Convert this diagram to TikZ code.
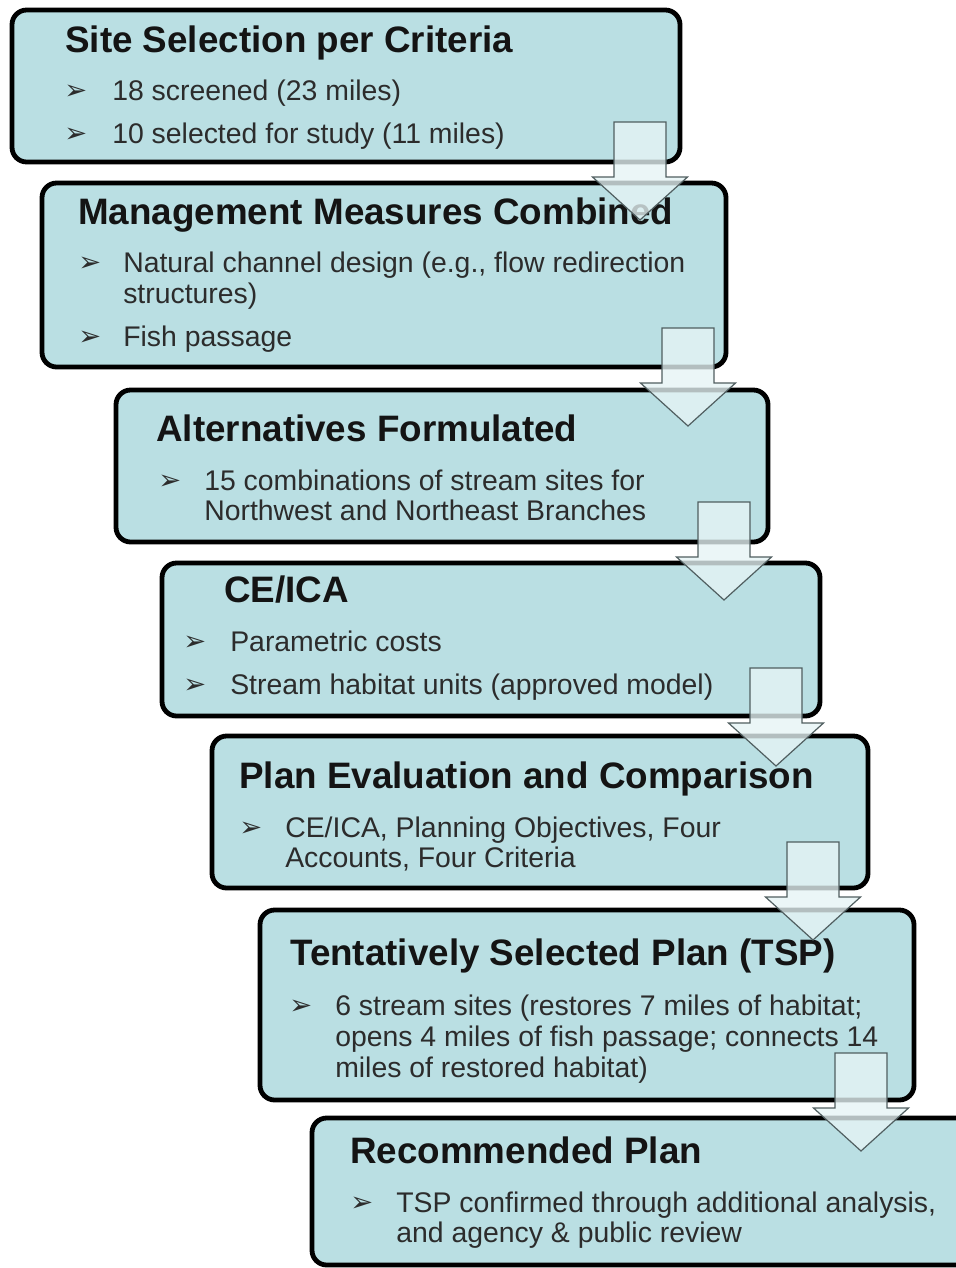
\documentclass[tikz,border=0pt]{standalone}
\usepackage{fontspec}
\setmainfont{Liberation Sans}
\newfontfamily\symfont{DejaVu Sans}
\definecolor{boxfill}{HTML}{BADFE3}
\definecolor{arrowfill}{HTML}{E6F4F5}
\definecolor{arrowline}{HTML}{505E60}
\definecolor{titlecol}{HTML}{141414}
\definecolor{bodycol}{HTML}{2C2C2C}
\tikzset{
 box/.style={draw=black, line width=3.6pt, fill=boxfill, rounded corners=11pt, inner sep=0pt, outer sep=0pt, anchor=north west},
 ttl/.style={anchor=base west, inner sep=0pt, font=\fontsize{27.6}{30}\selectfont\bfseries, text=titlecol},
 bodytxt/.style={anchor=base west, inner sep=0pt, font=\fontsize{21.3}{24}\selectfont, text=bodycol},
 bul/.style={anchor=base west, inner sep=0pt, font=\symfont\fontsize{20.5}{24}\selectfont, text=bodycol},
 barrow/.style={draw=arrowline, line width=0.9pt, fill=arrowfill, fill opacity=0.78, line join=miter}
}
\newcommand\blockarrow[1]{\draw[barrow] (#1) -- ++(52,0) -- ++(0,55) -- ++(21.5,0) -- ++(-47.5,43) -- ++(-47.5,-43) -- ++(21.5,0) -- cycle;}
\begin{document}
\begin{tikzpicture}[x=0.75pt,y=-0.75pt]
\useasboundingbox (0,0) rectangle (956,1268);
\clip (0,0) rectangle (956,1268);
% boxes
\node[box, minimum width=668*0.75pt, minimum height=152*0.75pt] (b1) at (12,10) {};
\node[box, minimum width=684*0.75pt, minimum height=184*0.75pt] (b2) at (42,183) {};
\node[box, minimum width=652*0.75pt, minimum height=152*0.75pt] (b3) at (116,390) {};
\node[box, minimum width=658*0.75pt, minimum height=153*0.75pt] (b4) at (162,563) {};
\node[box, minimum width=656*0.75pt, minimum height=152*0.75pt] (b5) at (212,736) {};
\node[box, minimum width=654*0.75pt, minimum height=190*0.75pt] (b6) at (260,910) {};
\node[box, minimum width=690*0.75pt, minimum height=147*0.75pt] (b7) at (312,1118) {};
% box 1
\node[ttl] (t1) at (65,52) {Site Selection per Criteria};
\node[bul] (u11) at (64,99) {➢};
\node[bodytxt] (l11) at (112,100) {18 screened (23 miles)};
\node[bul] (u12) at (64,142) {➢};
\node[bodytxt] (l12) at (112,143) {10 selected for study (11 miles)};
% box 2
\node[ttl] (t2) at (78,224) {Management Measures Combined};
\node[bul] (u21) at (78,271) {➢};
\node[bodytxt] (l21) at (123,272) {Natural channel design (e.g., flow redirection};
\node[bodytxt] (l22) at (123,303) {structures)};
\node[bul] (u22) at (78,345) {➢};
\node[bodytxt] (l23) at (123,346) {Fish passage};
% box 3
\node[ttl] (t3) at (156,441) {Alternatives Formulated};
\node[bul] (u31) at (158,489) {➢};
\node[bodytxt] (l31) at (204,490) {15 combinations of stream sites for};
\node[bodytxt] (l32) at (204,520) {Northwest and Northeast Branches};
% box 4
\node[ttl] (t4) at (224,602) {CE/ICA};
\node[bul] (u41) at (183,650) {➢};
\node[bodytxt] (l41) at (230,651) {Parametric costs};
\node[bul] (u42) at (183,693) {➢};
\node[bodytxt] (l42) at (230,694) {Stream habitat units (approved model)};
% box 5
\node[ttl] (t5) at (239,788) {Plan Evaluation and Comparison};
\node[bul] (u51) at (239,836) {➢};
\node[bodytxt] (l51) at (285,837) {CE/ICA, Planning Objectives, Four};
\node[bodytxt] (l52) at (285,867) {Accounts, Four Criteria};
% box 6
\node[ttl] (t6) at (290,965) {Tentatively Selected Plan (TSP)};
\node[bul] (u61) at (289,1014) {➢};
\node[bodytxt] (l61) at (335,1015) {6 stream sites (restores 7 miles of habitat;};
\node[bodytxt] (l62) at (335,1046) {opens 4 miles of fish passage; connects 14};
\node[bodytxt] (l63) at (335,1077) {miles of restored habitat)};
% box 7
\node[ttl] (t7) at (350,1163) {Recommended Plan};
\node[bul] (u71) at (350,1211) {➢};
\node[bodytxt] (l71) at (396,1212) {TSP confirmed through additional analysis,};
\node[bodytxt] (l72) at (396,1242) {and agency \& public review};
% arrows
\coordinate (a1) at (614,122);
\coordinate (a2) at (662,328);
\coordinate (a3) at (698,502);
\coordinate (a4) at (750,668);
\coordinate (a5) at (787,842);
\coordinate (a6) at (835,1053);
\blockarrow{a1}
\blockarrow{a2}
\blockarrow{a3}
\blockarrow{a4}
\blockarrow{a5}
\blockarrow{a6}
\end{tikzpicture}
\end{document}
